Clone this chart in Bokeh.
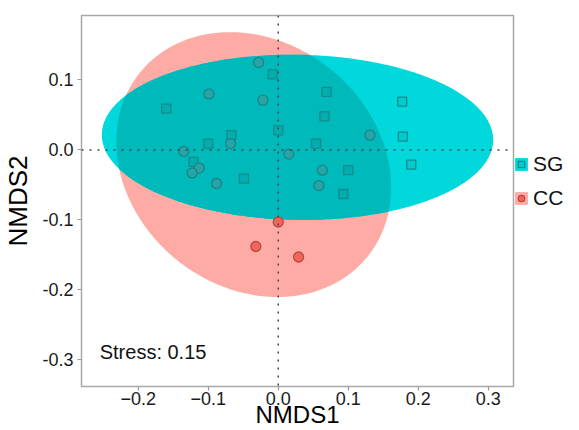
import numpy as np
from bokeh.plotting import figure
from bokeh.models import Range1d, FixedTicker, Span, Legend, LegendItem, Label
from bokeh.embed import file_html
from bokeh.resources import INLINE

# ---------------- data ----------------
sg_x = [-0.008, 0.069, 0.177, -0.160, 0.066, 0.000, -0.067, 0.178, -0.100, 0.054, -0.121, 0.190, 0.100, -0.049, 0.093]
sg_y = [0.108, 0.083, 0.069, 0.059, 0.048, 0.028, 0.021, 0.019, 0.009, 0.009, -0.017, -0.021, -0.029, -0.041, -0.063]

cc_x = [-0.028, -0.099, -0.022, 0.131, -0.068, -0.135, 0.015, -0.113, -0.123, 0.063, -0.088, 0.058, 0.000, -0.032, 0.029]
cc_y = [0.125, 0.080, 0.071, 0.021, 0.009, -0.002, -0.006, -0.026, -0.033, -0.029, -0.048, -0.051, -0.103, -0.138, -0.153]

groups = ["SG", "CC"]
ell_cx = [0.0275, -0.035]
ell_cy = [0.018, -0.021]
ell_a = [0.2795, 0.209]
ell_b = [0.118, 0.175]
ell_angle_deg = [-0.9, -39.0]

x_ticks = [-0.2, -0.1, 0.0, 0.1, 0.2, 0.3]
x_tick_labels = ["\u22120.2", "\u22120.1", "0.0", "0.1", "0.2", "0.3"]
y_ticks = [-0.3, -0.2, -0.1, 0.0, 0.1]
y_tick_labels = ["-0.3", "-0.2", "-0.1", "0.0", "0.1"]
stress_text = "Stress: 0.15"
x_title = "NMDS1"
y_title = "NMDS2"

FONT = "Liberation Sans"


def ellipse_poly(cx, cy, a, b, ang_deg, n=360):
    t = np.linspace(0, 2 * np.pi, n, endpoint=False)
    th = np.deg2rad(ang_deg)
    x = cx + a * np.cos(t) * np.cos(th) - b * np.sin(t) * np.sin(th)
    y = cy + a * np.cos(t) * np.sin(th) + b * np.sin(t) * np.cos(th)
    return x, y


def inside(x, y, cx, cy, a, b, ang_deg):
    th = np.deg2rad(ang_deg)
    dx = np.asarray(x) - cx
    dy = np.asarray(y) - cy
    u = dx * np.cos(th) + dy * np.sin(th)
    v = -dx * np.sin(th) + dy * np.cos(th)
    return (u / a) ** 2 + (v / b) ** 2 <= 1.0


sg_par = (ell_cx[0], ell_cy[0], ell_a[0], ell_b[0], ell_angle_deg[0])
cc_par = (ell_cx[1], ell_cy[1], ell_a[1], ell_b[1], ell_angle_deg[1])

sgx_poly, sgy_poly = ellipse_poly(*sg_par)
ccx_poly, ccy_poly = ellipse_poly(*cc_par)

# intersection of the two (convex) ellipses
m1 = inside(sgx_poly, sgy_poly, *cc_par)
m2 = inside(ccx_poly, ccy_poly, *sg_par)
ix = np.concatenate([sgx_poly[m1], ccx_poly[m2]])
iy = np.concatenate([sgy_poly[m1], ccy_poly[m2]])
ang = np.arctan2(iy - iy.mean(), ix - ix.mean())
order = np.argsort(ang)
ix, iy = ix[order], iy[order]

cc_in = inside(cc_x, cc_y, *sg_par)
cc_x_arr = np.array(cc_x)
cc_y_arr = np.array(cc_y)

# ---------------- figure ----------------
p = figure(
    frame_width=432, frame_height=371,
    x_range=Range1d(-0.281, 0.336), y_range=Range1d(-0.338, 0.192),
    output_backend="svg", toolbar_location=None,
    min_border_left=75, min_border_top=15, min_border_right=0, min_border_bottom=0,
)
p.background_fill_color = "white"
p.border_fill_color = "white"
p.xgrid.visible = False
p.ygrid.visible = False
p.outline_line_color = "#A8A8A8"
p.outline_line_width = 1.5

r_cc_ell = p.patch(ccx_poly, ccy_poly, fill_color="#FDABA4", line_color=None)
r_sg_ell = p.patch(sgx_poly, sgy_poly, fill_color="#00D8DB", line_color=None)
p.patch(ix, iy, fill_color="#00B9BB", line_color=None)

p.add_layout(Span(location=0, dimension="width", line_color="#444444",
                  line_width=1.5, line_dash="2 6"))
p.add_layout(Span(location=0, dimension="height", line_color="#444444",
                  line_width=1.5, line_dash="2 6"))

r_sg = p.scatter(sg_x, sg_y, marker="square", size=9, fill_color="black",
                 fill_alpha=0.06, line_color="#168A8C", line_width=1.3)
p.scatter(cc_x_arr[cc_in], cc_y_arr[cc_in], marker="circle", size=10,
          fill_color="#27A4A5", line_color="#1A8586", line_width=1.3)
r_cc = p.scatter(cc_x_arr[~cc_in], cc_y_arr[~cc_in], marker="circle", size=10,
                 fill_color="#F6655A", line_color="#B84A44", line_width=1.3)

p.add_layout(Label(x=-0.255, y=-0.288, text=stress_text, text_baseline="middle",
                   text_font=FONT, text_font_size="20px", text_color="#111111"))

# axes
for ax, ticks, labels, title in ((p.xaxis, x_ticks, x_tick_labels, x_title),
                                 (p.yaxis, y_ticks, y_tick_labels, y_title)):
    ax.ticker = FixedTicker(ticks=ticks)
    ax.major_label_overrides = {t: l for t, l in zip(ticks, labels)}
    ax.axis_line_color = None
    ax.major_tick_line_color = "#9A9A9A"
    ax.major_tick_line_width = 1.2
    ax.major_tick_out = 4
    ax.major_tick_in = 0
    ax.minor_tick_line_color = None
    ax.major_label_text_font = FONT
    ax.major_label_text_font_size = "18px"
    ax.major_label_text_color = "#1A1A1A"
    ax.axis_label = title
    ax.axis_label_text_font = FONT
    ax.axis_label_text_font_style = "normal"
    ax.axis_label_text_color = "black"

p.xaxis.major_label_standoff = 1
p.xaxis.axis_label_text_font_size = "24px"
p.xaxis.axis_label_standoff = -7
p.yaxis.major_label_standoff = 4
p.yaxis.axis_label_text_font_size = "26px"
p.yaxis.axis_label_standoff = 6

legend = Legend(items=[LegendItem(label=groups[0], renderers=[r_sg_ell, r_sg]),
                       LegendItem(label=groups[1], renderers=[r_cc_ell, r_cc])],
                location=(0, 176))
legend.margin = 0
legend.padding = 7
legend.border_line_color = None
legend.background_fill_alpha = 0
legend.glyph_width = 16
legend.glyph_height = 16
legend.label_height = 20
legend.spacing = 10
legend.label_standoff = 4
legend.label_text_font = FONT
legend.label_text_font_size = "21px"
legend.label_text_color = "#111111"
p.add_layout(legend, "right")

open("out.html", "w").write(file_html(p, INLINE))
